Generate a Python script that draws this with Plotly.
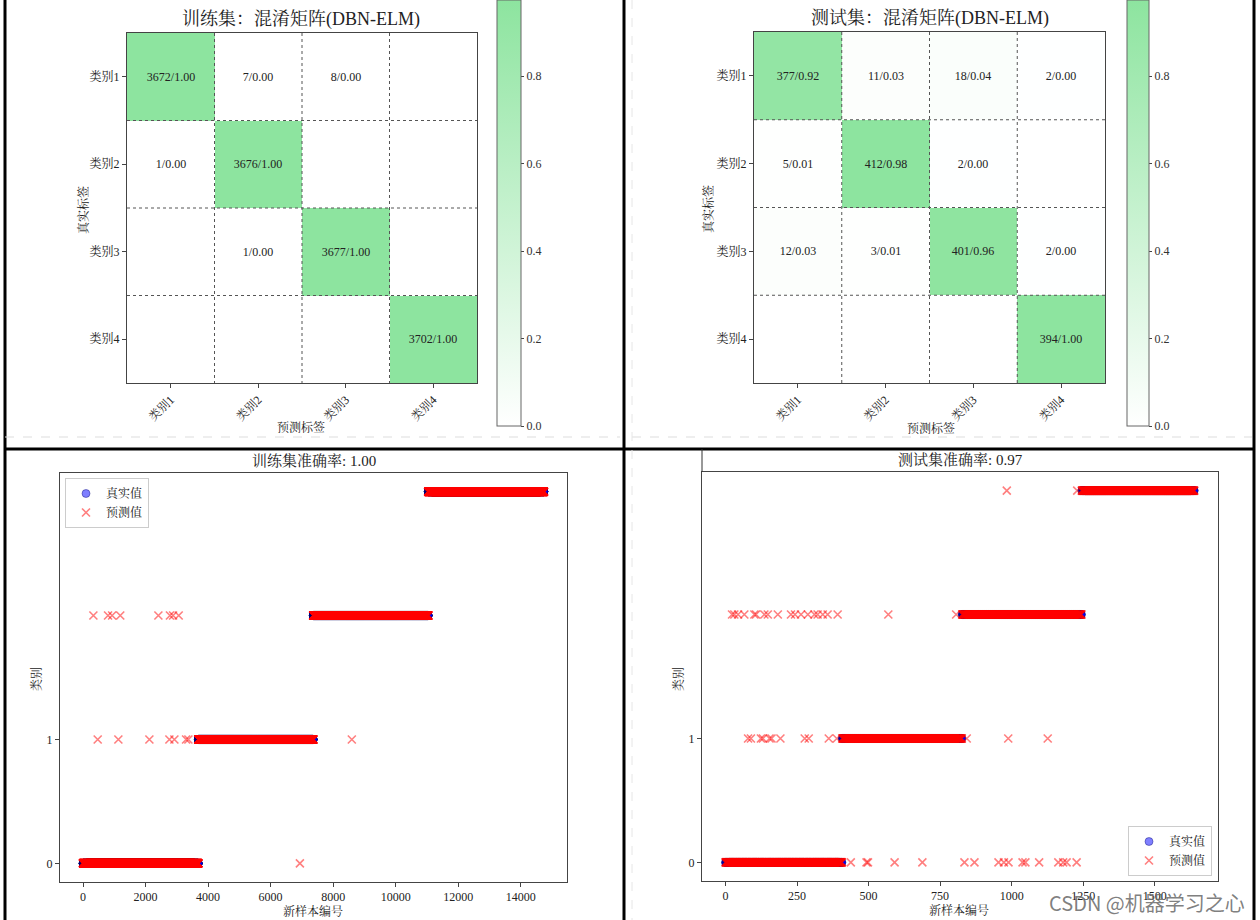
import plotly.graph_objects as go

W, H = 1260, 920

# ---------------- data ----------------
categories = ["类别1", "类别2", "类别3", "类别4"]
train_cm = [[3672, 7, 8, 0],
            [1, 3676, 0, 0],
            [0, 1, 3677, 0],
            [0, 0, 0, 3702]]
test_cm = [[377, 11, 18, 2],
           [5, 412, 2, 0],
           [12, 3, 401, 2],
           [0, 0, 0, 394]]

# samples per true class in the scatter (sorted by class)
train_class_sizes = [3687, 3677, 3678, 3702]
test_class_sizes = [408, 419, 418, 394]

# misclassified samples: index -> predicted class
train_wrong_pred0 = [6937]
train_wrong_pred1 = [469, 1130, 2122, 2762, 2922, 3296, 3370, 8598]
train_wrong_pred2 = [331, 800, 930, 1190, 2410, 2780, 2880, 3060]
train_wrong_pred3 = []

test_wrong_pred0 = [438, 493, 498, 591, 688, 835, 870, 954, 973, 989, 1038, 1048,
                    1096, 1163, 1180, 1192, 1227]
test_wrong_pred1 = [79, 89, 124, 131, 154, 161, 192, 277, 291, 361, 389, 843, 988, 1126]
test_wrong_pred2 = [23, 31, 44, 66, 101, 107, 136, 148, 183, 229, 243, 264, 288, 311,
                    322, 340, 357, 392, 569, 806]
test_wrong_pred3 = [983, 1229]

train_xticks = [0, 2000, 4000, 6000, 8000, 10000, 12000, 14000]
test_xticks = [0, 250, 500, 750, 1000, 1250, 1500]
class_yticks = [0, 1]
cbar_ticks = [0.0, 0.2, 0.4, 0.6, 0.8]

train_acc_title = "训练集准确率: 1.00"
test_acc_title = "测试集准确率: 0.97"

# ---------------- helpers ----------------
SERIF = "Liberation Serif, Noto Serif CJK SC, Noto Sans CJK SC, serif"
TXT = "#222222"
GREEN = "#8de49f"


def px_x(p):
    return p / W


def px_y(p):
    return 1 - p / H


def cm_parts(cm):
    ratios, texts = [], []
    for row in cm:
        s = sum(row)
        rr, tt = [], []
        for v in row:
            r = v / s
            rr.append(r)
            tt.append(f"{v}/{r:.2f}" if v > 0 else "")
        ratios.append(rr)
        texts.append(tt)
    return ratios, texts


def build_labels(sizes, wrong_lists):
    true = []
    for c, n in enumerate(sizes):
        true += [c] * n
    pred = list(true)
    for c, idxs in enumerate(wrong_lists):
        for i in idxs:
            pred[i] = c
    return list(range(len(true))), true, pred


fig = go.Figure()

# ---------------- heatmaps ----------------
cb_top_val = 426 / 437.5  # colorbar is cut by the image top
for k, (cm, xa, ya, cbx, cbth) in enumerate([
        (train_cm, "x", "y", 497, 24),
        (test_cm, "x2", "y2", 1127, 22)]):
    ratios, texts = cm_parts(cm)
    fig.add_trace(go.Heatmap(
        z=ratios, x=[0, 1, 2, 3], y=[0, 1, 2, 3],
        text=texts, texttemplate="%{text}",
        textfont=dict(size=12, color=TXT, family=SERIF),
        colorscale=[[0, "#ffffff"], [1, GREEN]],
        zmin=0, zmax=cb_top_val,
        xaxis=xa, yaxis=ya, hoverinfo="skip", showscale=True,
        colorbar=dict(
            x=px_x(cbx), xanchor="left",
            y=px_y(426), yanchor="bottom",
            len=426 / H, lenmode="fraction",
            thickness=cbth, thicknessmode="pixels",
            outlinewidth=1, outlinecolor="#666",
            tickvals=cbar_ticks, ticktext=[f"{v:.1f}" for v in cbar_ticks],
            ticks="outside", ticklen=3, tickcolor="#444",
            tickfont=dict(size=12, family=SERIF, color="#333"),
            xpad=0, ypad=0,
        ),
    ))

# ---------------- scatters ----------------
def add_scatter(sizes, wrong, xa, ya, legend):
    idx, true, pred = build_labels(sizes, wrong)
    fig.add_trace(go.Scatter(
        x=idx, y=true, mode="markers", name="真实值",
        marker=dict(symbol="circle", size=8, color="rgba(0,0,255,0.5)",
                    line=dict(color="rgba(0,0,110,0.5)", width=0.8)),
        xaxis=xa, yaxis=ya, legend=legend, hoverinfo="skip"))
    fig.add_trace(go.Scatter(
        x=idx, y=pred, mode="markers", name="预测值",
        marker=dict(symbol="x-thin", size=8, color="rgba(255,0,0,0.5)",
                    line=dict(color="rgba(255,0,0,0.5)", width=1.6)),
        xaxis=xa, yaxis=ya, legend=legend, hoverinfo="skip"))


add_scatter(train_class_sizes,
            [train_wrong_pred0, train_wrong_pred1, train_wrong_pred2, train_wrong_pred3],
            "x3", "y3", "legend")
add_scatter(test_class_sizes,
            [test_wrong_pred0, test_wrong_pred1, test_wrong_pred2, test_wrong_pred3],
            "x4", "y4", "legend2")

# ---------------- axes ----------------
frame = dict(showline=True, mirror=True, linecolor="#444", linewidth=1,
             showgrid=False, zeroline=False, ticks="outside", ticklen=4,
             tickcolor="#444", tickfont=dict(size=12, family=SERIF, color=TXT))


def hm_axes(x0, x1, y0, y1, anchor_x, anchor_y):
    xa = dict(frame, domain=[px_x(x0), px_x(x1)], anchor=anchor_y,
              range=[-0.5, 3.5], tickvals=[0, 1, 2, 3], ticktext=categories,
              tickangle=-45)
    ya = dict(frame, domain=[px_y(y1), px_y(y0)], anchor=anchor_x,
              range=[3.5, -0.5], tickvals=[0, 1, 2, 3], ticktext=categories)
    return xa, ya


xa1, ya1 = hm_axes(127, 477, 33, 383, "x", "y")
xa2, ya2 = hm_axes(754, 1105, 32, 383, "x2", "y2")

n_tr = sum(train_class_sizes)
n_te = sum(test_class_sizes)
xa3 = dict(frame, domain=[px_x(60), px_x(567)], anchor="y3",
           range=[-0.05 * n_tr, 1.05 * n_tr], tickvals=train_xticks,
           ticktext=[str(v) for v in train_xticks])
ya3 = dict(frame, domain=[px_y(882), px_y(473)], anchor="x3",
           range=[-0.15, 3.15], tickvals=class_yticks)
xa4 = dict(frame, domain=[px_x(702), px_x(1218)], anchor="y4",
           range=[-0.05 * n_te, 1.05 * n_te], tickvals=test_xticks,
           ticktext=[str(v) for v in test_xticks])
ya4 = dict(frame, domain=[px_y(881), px_y(472)], anchor="x4",
           range=[-0.15, 3.15], tickvals=class_yticks)

# ---------------- shapes ----------------
shapes = []
for xr, yr in [("x", "y"), ("x2", "y2")]:
    for k in [0.5, 1.5, 2.5]:
        shapes.append(dict(type="line", xref=xr, yref=yr, x0=k, x1=k, y0=-0.5, y1=3.5,
                           line=dict(color="#555", width=1, dash="dot")))
        shapes.append(dict(type="line", xref=xr, yref=yr, y0=k, y1=k, x0=-0.5, x1=3.5,
                           line=dict(color="#555", width=1, dash="dot")))


def pline(x0, y0, x1, y1, color="black", width=3, dash="solid"):
    shapes.append(dict(type="line", xref="paper", yref="paper",
                       x0=px_x(x0), x1=px_x(x1), y0=px_y(y0), y1=px_y(y1),
                       line=dict(color=color, width=width, dash=dash)))


# screenshot-like frames
pline(5, 0, 5, 920)
pline(624, 0, 624, 920)
pline(1254, 0, 1254, 920)
pline(5, 449, 1254, 449)
pline(5, 437, 620, 437, color="#dddddd", width=1, dash="dash")
pline(632, 437, 1252, 437, color="#dddddd", width=1, dash="dash")
pline(632, 0, 632, 920, color="#e6e6e6", width=1, dash="dash")
pline(702, 449, 702, 472, color="#333", width=1)

# ---------------- annotations ----------------
ann = []


def text(s, x, y, size, angle=0, color=TXT, family=SERIF):
    ann.append(dict(text=s, xref="paper", yref="paper", x=px_x(x), y=px_y(y),
                    xanchor="center", yanchor="middle", showarrow=False,
                    textangle=angle, font=dict(size=size, family=family, color=color)))


text("训练集：混淆矩阵(DBN-ELM)", 301, 19, 18)
text("测试集：混淆矩阵(DBN-ELM)", 930, 18, 18)
text("真实标签", 83, 210, 12, angle=-90)
text("真实标签", 709, 209, 12, angle=-90)
text("预测标签", 301, 427, 12)
text("预测标签", 931, 428, 12)
text(train_acc_title, 314, 461, 15)
text(test_acc_title, 960, 460, 15)
text("新样本编号", 313, 911, 12)
text("新样本编号", 959, 910, 12)
text("类别", 36, 679, 12, angle=-90)
text("类别", 678, 679, 12, angle=-90)
ann.append(dict(text="CSDN @机器学习之心", xref="paper", yref="paper",
                x=px_x(1247), y=px_y(902), xanchor="right", yanchor="middle",
                showarrow=False,
                font=dict(size=20, family="Noto Sans CJK SC, sans-serif",
                          color="rgba(105,105,105,0.85)")))

legend_style = dict(bgcolor="rgba(255,255,255,0.9)", bordercolor="#cccccc",
                    borderwidth=1, font=dict(size=12, family=SERIF, color=TXT),
                    tracegroupgap=0, itemwidth=30)

fig.update_layout(
    width=W, height=H,
    margin=dict(l=0, r=0, t=0, b=0, autoexpand=False),
    paper_bgcolor="white", plot_bgcolor="white",
    xaxis=xa1, yaxis=ya1, xaxis2=xa2, yaxis2=ya2,
    xaxis3=xa3, yaxis3=ya3, xaxis4=xa4, yaxis4=ya4,
    shapes=shapes, annotations=ann,
    legend=dict(legend_style, x=px_x(65), y=px_y(478), xanchor="left", yanchor="top"),
    legend2=dict(legend_style, x=px_x(1212), y=px_y(876), xanchor="right", yanchor="bottom"),
    showlegend=True,
)

fig.write_html(
    "out.html",
    config={"displayModeBar": False},
    post_script="document.body.style.margin='0px';document.body.style.overflow='hidden';",
)
